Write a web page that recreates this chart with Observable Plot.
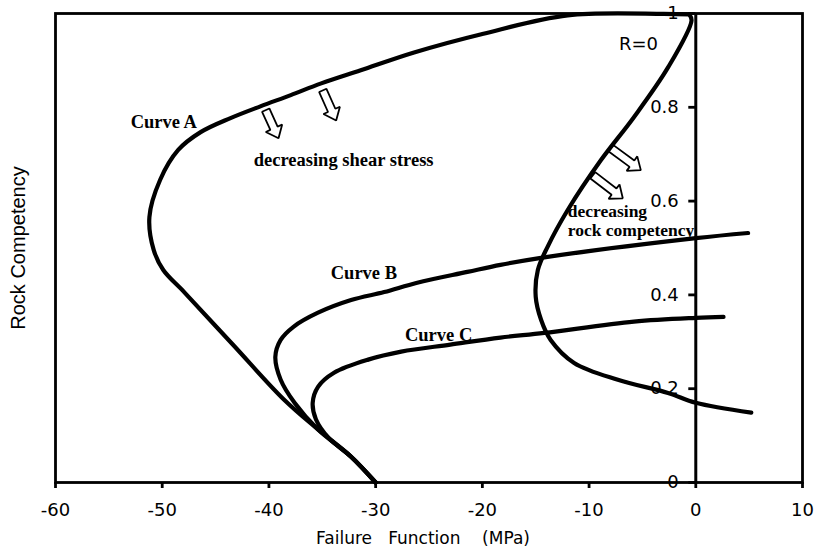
<!DOCTYPE html>
<html><head><meta charset="utf-8">
<script src="https://cdn.jsdelivr.net/npm/d3@7"></script>
<script src="https://cdn.jsdelivr.net/npm/@observablehq/plot@0.6"></script>
<style>body{margin:0;background:#fff}</style>
</head><body><div id="chart"></div>
<script>
// ---- data ----
const xTicks = [-60, -50, -40, -30, -20, -10, 0, 10];
const yTicks = [0, 0.2, 0.4, 0.6, 0.8, 1];
const yTickLabels = ["0", "0.2", "0.4", "0.6", "0.8", "1"];

const curveAX = [-30, -32.3, -35.4, -38.6, -43.3, -47.9, -49.9, -50.8, -51.2, -50.2, -48.5, -46.4, -43.6, -40.8, -37.95, -35.1, -31.4, -26.4, -19.9, -12, -3, -0.6];
const curveAY = [0, 0.055, 0.113, 0.177, 0.292, 0.405, 0.453, 0.496, 0.566, 0.645, 0.709, 0.747, 0.777, 0.802, 0.826, 0.851, 0.879, 0.917, 0.957, 0.996, 0.999, 0.998];

const curveR0X = [-0.6, -0.4, -2.6, -5.8, -8.9, -12, -13.9, -14.8, -15, -14.5, -13.6, -11.4, -7.3, -2.6, 0, 5.2];
const curveR0Y = [0.998, 0.985, 0.885, 0.779, 0.687, 0.581, 0.502, 0.453, 0.396, 0.347, 0.304, 0.255, 0.219, 0.191, 0.17, 0.149];

const curveBX = [4.9, 0, -14.5, -18.3, -21.4, -26.1, -29.2, -32.3, -35.4, -37.7, -38.9, -39.4, -38.9, -37.6, -35.4, -32.3, -30];
const curveBY = [0.532, 0.521, 0.479, 0.464, 0.449, 0.426, 0.406, 0.389, 0.362, 0.332, 0.304, 0.268, 0.219, 0.17, 0.113, 0.055, 0];

const curveCX = [2.6, 0, -5.8, -14.2, -18.3, -23, -27.6, -30.7, -33.9, -35.4, -35.9, -35.6, -34.4, -32.3, -30];
const curveCY = [0.353, 0.351, 0.343, 0.319, 0.309, 0.294, 0.279, 0.262, 0.234, 0.204, 0.17, 0.135, 0.095, 0.055, 0];

const arrowTailX = [-40.3, -34.95, -7.97, -9.65];
const arrowTailY = [0.794, 0.836, 0.713, 0.655];
const arrowTipX = [-39.1, -33.7, -5.15, -6.84];
const arrowTipY = [0.734, 0.772, 0.666, 0.606];

const serifLabels = ["Curve A", "decreasing shear stress", "Curve B", "Curve C", "decreasing", "rock competency"];
const serifLabelX = [-49.85, -33.0, -31.1, -24.1, -12.0, -12.0];
const serifLabelY = [0.768, 0.687, 0.447, 0.315, 0.577, 0.538];

const sansLabels = ["R=0"];
const sansLabelX = [-7.2];
const sansLabelY = [0.934];

// ---- layout ----
const W = 816, H = 553, mL = 55, mR = 14, mT = 13, mB = 71;
const xDomain = [-60, 10], yDomain = [0, 1];
const kx = (W - mL - mR) / (xDomain[1] - xDomain[0]);
const ky = (H - mT - mB) / (yDomain[1] - yDomain[0]);

const toPts = (name, xs, ys) => xs.map((x, i) => ({curve: name, x, y: ys[i]}));
const lines = [
  ...toPts("A", curveAX, curveAY),
  ...toPts("R0", curveR0X, curveR0Y),
  ...toPts("B", curveBX, curveBY),
  ...toPts("C", curveCX, curveCY)
];

// hollow block arrows (shape built in screen units, mapped back to data)
const arrowPts = [];
arrowTailX.forEach((_, i) => {
  const tX = arrowTailX[i] * kx, tY = -arrowTailY[i] * ky;
  const pX = arrowTipX[i] * kx, pY = -arrowTipY[i] * ky;
  const dx = pX - tX, dy = pY - tY, len = Math.hypot(dx, dy);
  const ux = dx / len, uy = dy / len, nx = -uy, ny = ux;
  const hl = 11, sw = 4, hw = 9;
  const nX = pX - ux * hl, nY = pY - uy * hl;
  const poly = [
    [tX + nx * sw, tY + ny * sw], [nX + nx * sw, nY + ny * sw], [nX + nx * hw, nY + ny * hw],
    [pX, pY],
    [nX - nx * hw, nY - ny * hw], [nX - nx * sw, nY - ny * sw], [tX - nx * sw, tY - ny * sw]
  ];
  poly.forEach(([X, Y]) => arrowPts.push({id: i, x: X / kx, y: -Y / ky}));
});

const serifData = serifLabels.map((t, i) => ({t, x: serifLabelX[i], y: serifLabelY[i]}));
const sansData = sansLabels.map((t, i) => ({t, x: sansLabelX[i], y: sansLabelY[i]}));

const chart = Plot.plot({
  width: W, height: H,
  marginLeft: mL, marginRight: mR, marginTop: mT, marginBottom: mB,
  style: {fontFamily: "DejaVu Sans", fontSize: "18px", color: "black", background: "white"},
  x: {domain: xDomain, label: null},
  y: {domain: yDomain, axis: null},
  marks: [
    Plot.frame({strokeWidth: 2.8}),
    Plot.axisX({ticks: xTicks, tickFormat: d => String(d), tickSize: 6, tickPadding: 15, strokeWidth: 2.8, fontSize: 18, label: null}),
    Plot.ruleX([0], {y1: 0, y2: 1, strokeWidth: 3}),
    Plot.ruleY(yTicks, {y: d => d, x1: 0, x2: 0, insetLeft: -7, strokeWidth: 2.8}),
    Plot.text(yTicks, {x: 0, y: d => d, text: (d, i) => yTickLabels[i], textAnchor: "end", dx: -17, fontSize: 18}),
    Plot.line(arrowPts, {x: "x", y: "y", z: "id", curve: "linear-closed", fill: "white", stroke: "black", strokeWidth: 1.8, strokeLinejoin: "miter"}),
    Plot.line(lines, {x: "x", y: "y", z: "curve", curve: "catmull-rom", strokeWidth: 4.2, strokeLinejoin: "round", strokeLinecap: "round"}),
    Plot.text(serifData.slice(0, 4), {x: "x", y: "y", text: "t", fontFamily: "Liberation Serif", fontWeight: "bold", fontSize: 18.5, textAnchor: "middle"}),
    Plot.text(serifData.slice(4), {x: "x", y: "y", text: "t", fontFamily: "Liberation Serif", fontWeight: "bold", fontSize: 17.5, textAnchor: "start"}),
    Plot.text(sansData, {x: "x", y: "y", text: "t", fontSize: 18, textAnchor: "start"}),
    Plot.text(["Failure\u00a0\u00a0\u00a0Function\u00a0\u00a0\u00a0\u00a0(MPa)"], {frameAnchor: "bottom", dy: 61, dx: -6, fontSize: 17}),
    Plot.text(["Rock Competency"], {frameAnchor: "left", textAnchor: "middle", dx: -37, rotate: -90, fontFamily: "Liberation Sans", fontSize: 20})
  ]
});
document.getElementById("chart").appendChild(chart);
</script>
</body></html>
